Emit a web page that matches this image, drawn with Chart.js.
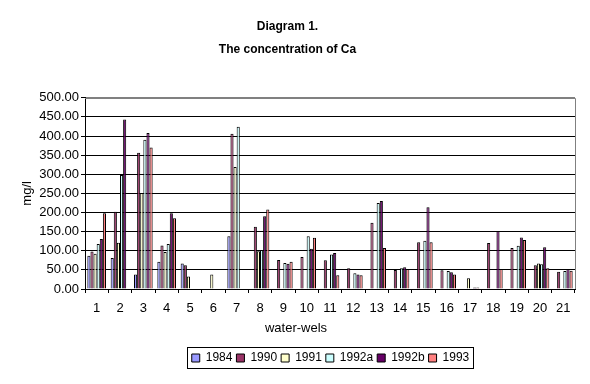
<!DOCTYPE html>
<html>
<head>
<meta charset="utf-8">
<script src="https://cdn.jsdelivr.net/npm/chart.js@4/dist/chart.umd.min.js"></script>
<style>
html,body{margin:0;padding:0;background:#fff;}
#wrap{width:590px;height:384px;position:relative;}
</style>
</head>
<body>
<div id="wrap"><canvas id="c" width="590" height="384"></canvas></div>
<script>
const categories = ['1','2','3','4','5','6','7','8','9','10','11','12','13','14','15','16','17','18','19','20','21'];
const seriesNames = ['1984','1990','1991','1992a','1992b','1993'];
const v1984  = [87, 81, 38, 71, 67, null, 138, null, null, null, null, null, null, null, null, null, null, null, null, null, null];
const v1990  = [98, 202, 356, 114, 62, null, 406, 163, 76, 84, 75, 54, 173, 50, 122, 49, null, 120, 107, 62, 45];
const v1991  = [92, 121, 251, 97, 33, 38, 319, 99, null, null, null, null, null, null, null, null, 28, null, null, 67, null];
const v1992a = [118, 298, 390, 118, null, null, 424, 102, 68, 138, 90, 41, 225, 54, 126, 47, null, null, 113, 65, 47];
const v1992b = [131, 443, 408, 198, null, null, null, 190, 66, 105, 94, 38, 230, 57, 214, 44, 4, 152, 135, 109, 52];
const v1993  = [198, null, 370, 185, null, null, null, 208, 71, 134, 36, 36, 107, 52, 122, 38, 4, 52, 128, 54, 48];
const yTicks = [0, 50, 100, 150, 200, 250, 300, 350, 400, 450, 500];

const colors = ['#9999FF', '#993366', '#FFFFCC', '#CCFFFF', '#660066', '#FF8080'];
const seriesValues = [v1984, v1990, v1991, v1992a, v1992b, v1993];

const FONT = "'Liberation Sans', Arial, sans-serif";
Chart.defaults.font.family = FONT;
Chart.defaults.color = '#000';

const LEG_SHIFT = 43;

const excelPlugin = {
  id: 'excelLook',
  afterLayout(chart) {
    const lg = chart.legend;
    if (lg) { lg.left += LEG_SHIFT; lg.right += LEG_SHIFT; }
  },
  afterDraw(chart) {
    const ctx = chart.ctx, a = chart.chartArea;
    ctx.save();
    ctx.strokeStyle = '#808080';
    ctx.lineWidth = 1;
    ctx.beginPath();
    ctx.moveTo(Math.round(a.left), Math.round(a.top) + 0.5);
    ctx.lineTo(Math.round(a.right) + 0.5, Math.round(a.top) + 0.5);
    ctx.lineTo(Math.round(a.right) + 0.5, Math.round(a.bottom));
    ctx.stroke();
    // legend frame
    const hb = chart.legend.legendHitBoxes;
    if (hb && hb.length) {
      const first = hb[0], last = hb[hb.length - 1];
      const l = Math.round(first.left - 5) + 0.5;
      const r = Math.round(last.left + last.width + 4) + 0.5;
      const t = Math.round(first.top - 5) + 0.5;
      const b = Math.round(first.top + first.height + 4) + 0.5;
      ctx.strokeStyle = '#000';
      ctx.strokeRect(l, t, r - l, b - t);
    }
    // x axis title
    ctx.fillStyle = '#000';
    ctx.font = "13px " + FONT;
    ctx.textAlign = 'center';
    ctx.textBaseline = 'middle';
    ctx.fillText('water-wels', 296, 328);
    ctx.restore();
  }
};

const datasets = seriesNames.map((name, i) => ({
  label: name,
  data: seriesValues[i],
  backgroundColor: colors[i],
  borderColor: '#000',
  borderWidth: 1,
  borderSkipped: 'bottom',
  categoryPercentage: 0.8,
  barPercentage: 1.0
}));

new Chart(document.getElementById('c'), {
  type: 'bar',
  data: { labels: categories, datasets },
  options: {
    responsive: false,
    animation: false,
    devicePixelRatio: 1,
    layout: { padding: { left: 0, right: 15, top: 0, bottom: 10 } },
    plugins: {
      title: {
        display: true,
        text: 'Diagram 1.',
        font: { size: 12, weight: 'bold' },
        color: '#000',
        padding: { top: 19, bottom: 9 }
      },
      subtitle: {
        display: true,
        text: 'The concentration of Ca',
        font: { size: 12, weight: 'bold' },
        color: '#000',
        padding: { top: 0, bottom: 41 }
      },
      legend: {
        display: true,
        position: 'bottom',
        labels: {
          boxWidth: 8,
          boxHeight: 8,
          padding: 4,
          font: { size: 12 },
          color: '#000'
        }
      },
      tooltip: { enabled: false }
    },
    scales: {
      x: {
        grid: { display: true, drawOnChartArea: false, drawTicks: true, tickLength: 4, color: '#000', offset: true },
        border: { display: true, color: '#000', width: 1 },
        ticks: { font: { size: 13 }, color: '#000', maxRotation: 0, autoSkip: false, padding: 8 },
        afterFit(scale) { scale.height = 59; }
      },
      y: {
        min: 0,
        max: 500,
        afterBuildTicks(scale) { scale.ticks = yTicks.map(v => ({ value: v })); },
        grid: {
          color: (c) => (c.tick && c.tick.value === 500 ? '#808080' : '#000'),
          tickColor: '#000',
          tickLength: 4,
          drawTicks: true
        },
        border: { display: true, color: '#000', width: 1 },
        ticks: {
          font: { size: 13 },
          color: '#000',
          padding: 2,
          callback: (v) => Number(v).toFixed(2)
        },
        title: {
          display: true,
          text: 'mg/l',
          font: { size: 13 },
          color: '#000',
          padding: { top: 20, bottom: 0 }
        },
        afterFit(scale) { scale.width = 85; }
      }
    }
  },
  plugins: [excelPlugin]
});
</script>
</body>
</html>
